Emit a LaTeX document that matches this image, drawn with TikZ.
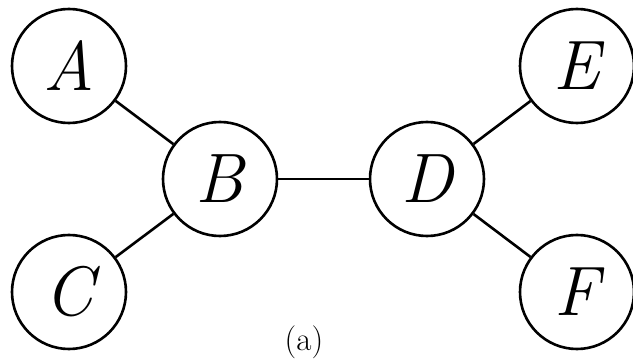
\documentclass[tikz,border=0pt]{standalone}
\begin{document}
\begin{tikzpicture}[x=1pt,y=-1pt,
  vert/.style={circle,draw,line width=2.6pt,minimum size=114pt,inner sep=0pt,
    font=\fontsize{70}{70}\selectfont\itshape},
  edge/.style={line width=2.6pt}]
\useasboundingbox (0,0) rectangle (633,361);
\node[vert] (A) at (69,66) {A};
\node[vert] (B) at (220,179) {B};
\node[vert] (C) at (69,292) {C};
\node[vert] (D) at (427,179) {D};
\node[vert] (E) at (577,66) {E};
\node[vert] (F) at (577,292) {F};
\draw[edge] (A) -- (B);
\draw[edge] (C) -- (B);
\draw[edge] (B) -- (D);
\draw[edge] (D) -- (E);
\draw[edge] (D) -- (F);
\node[anchor=base,inner sep=0pt,font=\fontsize{33}{33}\selectfont] (lab) at (304,350) {(a)};
\end{tikzpicture}
\end{document}
